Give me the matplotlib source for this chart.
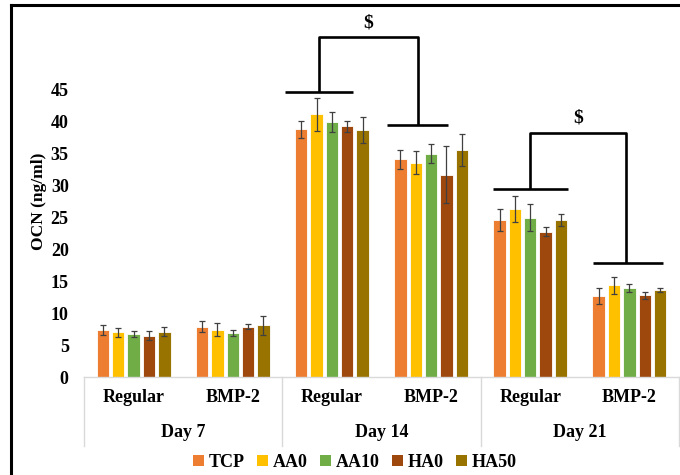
import matplotlib
matplotlib.use("Agg")
import matplotlib.pyplot as plt
import numpy as np
from matplotlib.lines import Line2D
from matplotlib.patches import Patch
import matplotlib.transforms as mtransforms

plt.rcParams['font.family'] = ['Liberation Serif', 'DejaVu Serif']
plt.rcParams['font.weight'] = 'bold'

# ---- data ----
days = ["Day 7", "Day 14", "Day 21"]
media = ["Regular", "BMP-2"]
series = ["TCP", "AA0", "AA10", "HA0", "HA50"]
colors = ["#ED7D31", "#FFC000", "#70AD47", "#9E480E", "#997300"]

# values per cluster (Day7 Reg, Day7 BMP, Day14 Reg, Day14 BMP, Day21 Reg, Day21 BMP)
TCP  = [7.4, 7.9, 38.8, 34.1, 24.6, 12.7]
AA0  = [7.0, 7.4, 41.2, 33.6, 26.3, 14.4]
AA10 = [6.7, 6.9, 40.0, 35.0, 25.0, 13.9]
HA0  = [6.5, 7.9, 39.3, 31.7, 22.8, 12.8]
HA50 = [7.1, 8.1, 38.7, 35.6, 24.6, 13.7]

TCP_err  = [0.8, 0.8, 1.4, 1.55, 1.7, 1.25]
AA0_err  = [0.7, 1.0, 2.6, 1.8, 2.0, 1.35]
AA10_err = [0.5, 0.5, 1.6, 1.45, 2.1, 0.6]
HA0_err  = [0.75, 0.45, 0.9, 4.5, 0.7, 0.6]
HA50_err = [0.7, 1.45, 2.1, 2.5, 1.0, 0.3]

values = [TCP, AA0, AA10, HA0, HA50]
errors = [TCP_err, AA0_err, AA10_err, HA0_err, HA50_err]

yticks = [0, 5, 10, 15, 20, 25, 30, 35, 40, 45]

# significance brackets
brackets = [
    dict(l=(1.525, 2.21, 44.6), r=(2.56, 3.17, 39.5), top=53.3, lx=1.87, rx=2.866),
    dict(l=(3.62, 4.38, 29.5), r=(4.63, 5.34, 17.9), top=38.3, lx=4.0, rx=4.97),
]
sig_label = "$"

# ---- figure ----
fig = plt.figure(figsize=(6.8, 4.75), dpi=100)
ax = fig.add_axes([84/680, 1-377/475, 595/680, (377-26.1)/475])

n_clusters = len(days) * len(media)
x = np.arange(n_clusters)
pitch = 0.155
width = 0.125
for j, (name, vals, errs, c) in enumerate(zip(series, values, errors, colors)):
    ax.bar(x + (j-2)*pitch, vals, width, color=c, edgecolor="white", linewidth=0.6,
           yerr=errs, capsize=2.5,
           error_kw=dict(ecolor="#404040", elinewidth=0.9, capthick=0.9), zorder=2)

ax.set_xlim(-0.5, n_clusters - 0.5)
ax.set_ylim(0, 55)
ax.set_yticks(yticks)
ax.set_yticklabels([str(t) for t in yticks], fontsize=13, fontweight='bold')
ax.tick_params(axis='y', length=0, pad=11)
ax.set_xticks([])
for s in ["left", "right", "top"]:
    ax.spines[s].set_visible(False)
ax.spines["bottom"].set_color("#D9D9D9")
ax.spines["bottom"].set_linewidth(1.0)

ax.set_ylabel("OCN (ng/ml)", fontsize=12.5, fontweight='bold', labelpad=3)

trans = mtransforms.blended_transform_factory(ax.transData, ax.transAxes)
# category labels
for i in range(n_clusters):
    ax.text(x[i], -0.058, media[i % 2], transform=trans, ha='center', va='center',
            fontsize=13, fontweight='bold')
for d, name in enumerate(days):
    ax.text(2*d + 0.5, -0.157, name, transform=trans, ha='center', va='center',
            fontsize=13, fontweight='bold')
# group separators
for b in np.arange(-0.5, n_clusters, 2):
    ax.plot([b, b], [0, -0.197], transform=trans, color="#D9D9D9", lw=1.0, clip_on=False)

# brackets
for br in brackets:
    lx0, lx1, ly = br["l"]
    rx0, rx1, ry = br["r"]
    kw = dict(color="black", lw=1.9, clip_on=False, solid_capstyle='butt', zorder=3)
    ax.plot([lx0, lx1], [ly, ly], **kw)
    ax.plot([rx0, rx1], [ry, ry], **kw)
    ax.plot([br["lx"], br["lx"], br["rx"], br["rx"]], [ly, br["top"], br["top"], ry], **kw)
    ax.text((br["lx"] + br["rx"]) / 2, br["top"] + 0.9, sig_label, ha='center', va='bottom',
            fontsize=14, fontweight='bold')

# legend
handles = [Patch(facecolor=c, edgecolor='none') for c in colors]
fig.legend(handles, series, loc='center', bbox_to_anchor=(0.522, 0.027), ncol=5,
           frameon=False, handlelength=0.6, handleheight=0.6,
           handletextpad=0.25, columnspacing=0.7, prop=dict(weight='bold', size=13))

# outer border lines (left and top)
fig.add_artist(Line2D([11/680, 11/680], [0, 1-5/475], color='black', lw=2.2, transform=fig.transFigure))
fig.add_artist(Line2D([11/680, 1], [1-5/475, 1-5/475], color='black', lw=2.2, transform=fig.transFigure))

fig.savefig("out.png", dpi=100)
